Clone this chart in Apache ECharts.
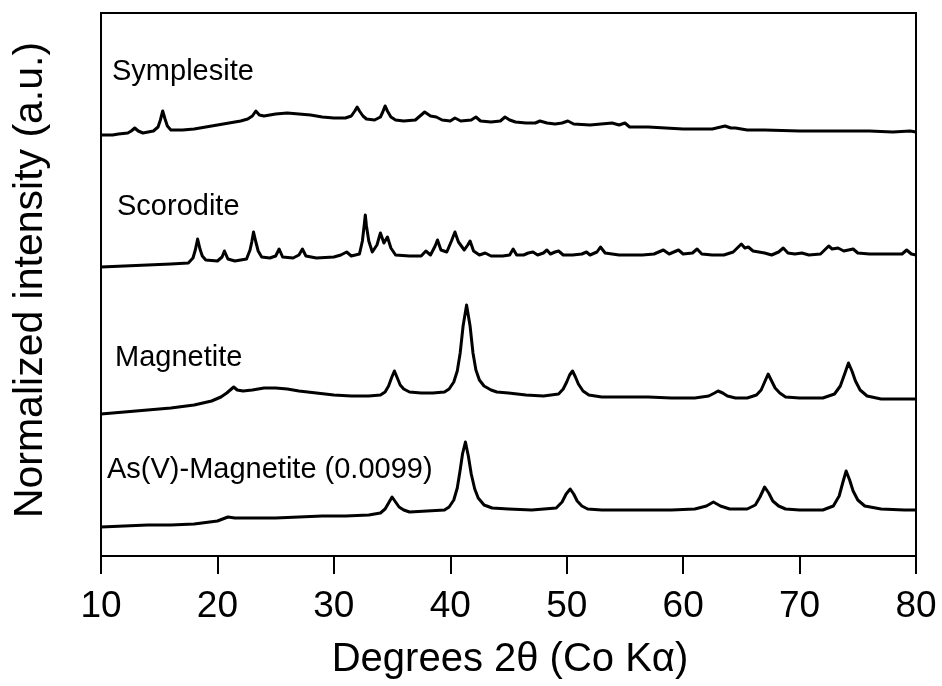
<!DOCTYPE html>
<html>
<head>
<meta charset="utf-8">
<script src="https://cdn.jsdelivr.net/npm/echarts@6/dist/echarts.min.js"></script>
<style>html,body{margin:0;padding:0;background:#fff}#c{width:942px;height:686px}</style>
</head>
<body>
<div id="c"></div>
<script>
const xTicks = [10, 20, 30, 40, 50, 60, 70, 80];
const sampleNames = ['Symplesite', 'Scorodite', 'Magnetite', 'As(V)-Magnetite (0.0099)'];

const symplesite = [
[10,421],[11,421],[11.5,422],[12.3,423],[12.6,425],[12.9,428],[13.2,425],[13.6,423],[14.5,425],[14.9,429],[15.1,436],[15.3,445],[15.5,437],[15.7,430],[16.0,426],
[17.0,426],[18.0,427],[19.0,429],[20.0,431],[21.0,433],[22.0,435],[22.6,437],[23.0,440],[23.3,445],[23.6,441],[24.0,440],[25.0,442],
[26.0,443],[27.0,442],[28.0,441],[29.0,439],[30.0,438],[31.0,438],[31.5,440],[31.8,445],[32.0,449],[32.2,445],[32.5,440],[32.8,437],
[33.5,436],[34.0,439],[34.2,444],[34.4,450],[34.6,445],[34.9,439],[35.3,436],[36.0,435],[37.0,436],[37.5,441],[37.8,444],[38.3,440],
[38.8,439],[39.3,436],[40.0,435],[40.4,438],[40.9,435],[41.8,436],[42.2,439],[42.6,435],[43.5,434],[44.3,435],
[44.7,439],[45.1,436],[45.6,434],[46.5,433],[47.3,433],[47.7,435],[48.3,433],[49.0,432],[49.6,433],[50.1,435],
[50.6,432],[52.0,431],[53.9,433],[54.5,431],[55.0,433],[55.4,429],[57.0,429],[60.0,427],[62.5,427],[63.6,430],
[64.1,428],[64.5,428],[65.5,426],[67.0,426],[70.0,425],[73.0,425],[76.0,425],[78.0,424],[79.5,425],[80,424]
];

const scorodite = [
[10,289],[12,290],[14,291],[16,292],[17.5,293],[17.9,298],[18.1,306],[18.3,317],[18.5,307],[18.7,300],[19.0,296],[20.0,295],
[20.4,299],[20.6,305],[20.9,297],[21.5,295],[22.5,297],[22.8,306],[22.95,314],[23.1,324],[23.3,314],[23.5,305],[23.8,299],[24.5,298],
[25.0,300],[25.3,307],[25.6,299],[26.5,298],[27.0,301],[27.3,307],[27.6,300],[28.5,298],[30.0,299],[30.6,301],
[31.1,304],[31.5,300],[32.2,302],[32.45,315],[32.6,330],[32.7,341],[32.8,330],[33.0,315],[33.3,304],[33.7,311],[34.0,323],[34.3,313],
[34.6,319],[34.9,308],[35.3,301],[36.5,300],[37.5,300],[37.9,305],[38.3,301],[38.7,310],[38.9,316],[39.2,306],
[39.7,304],[40.1,315],[40.4,324],[40.7,314],[41.2,306],[41.5,311],[41.7,315],[42.0,305],[42.5,301],[43.0,303],
[43.5,300],[44.5,300],[45.1,301],[45.4,307],[45.7,301],[46.3,301],[46.7,303],[47.1,304],[47.5,301],[48.0,303],
[48.3,306],[48.6,302],[49.0,304],[49.3,305],[49.7,301],[50.5,301],[51.3,302],[51.7,304],[52.0,301],[52.6,304],
[52.9,309],[53.3,303],[54.5,301],[55.5,301],[56.5,301],[57.5,302],[58.3,306],[58.8,302],[59.6,306],[60.0,302],
[60.8,303],[61.2,307],[61.6,302],[62.5,301],[63.5,301],[64.3,304],[65.0,312],[65.3,308],[65.6,309],[66.0,305],
[67.0,303],[67.6,301],[68.2,304],[68.6,308],[69.0,303],[69.6,302],[70.2,303],[70.8,301],[71.8,302],[72.5,310],
[72.8,307],[73.3,308],[73.8,305],[74.6,307],[75.0,303],[76,302],[77,302],[78,302],[78.8,302],[79.2,306],
[79.6,302],[80,301]
];

const magnetite = [
[10,142],[12,144],[14,146],[16,148],[18,151],[19.5,155],[20.3,159],[20.8,163],[21.1,166],[21.4,169],[21.7,166],
[22.2,165],[23.0,166],[24.0,168],[25.0,168],[26.0,167],[27.0,165],[28.5,163],[30.0,161],[31.5,160],[33.0,160],
[34.0,161],[34.4,164],[34.7,170],[34.95,178],[35.2,185],[35.45,178],[35.7,171],[36.0,167],[36.5,164],[37.5,163],[38.5,163],[39.5,164],
[39.9,167],[40.3,174],[40.6,185],[40.85,203],[41.1,230],[41.4,251],[41.7,230],[41.95,203],[42.2,186],[42.5,176],[42.9,170],[43.5,166],[44.0,164],[45.0,163],
[46.5,161],[48.0,160],[49.3,162],[49.7,167],[50.0,174],[50.25,181],[50.5,185],[50.75,179],[51.0,172],[51.4,165],[51.9,161],[53,159],
[55,159],[57,159],[59,158],[61,158],[62.2,160],[62.7,163],[63.0,165],[63.4,163],[63.8,160],[64.5,158],[65.5,158],[66.3,161],[66.7,166],
[67.0,174],[67.3,182],[67.6,175],[67.9,168],[68.3,163],[68.8,159],[70,158],[72,158],[73.0,162],[73.5,170],[73.9,183],[74.2,193],
[74.5,185],[74.8,175],[75.2,166],[75.8,160],[77,157],[79,157],[80,157]
];

const asMagnetite = [
[10,29],[12,30],[14,31],[16,31],[18,32],[20,35],[20.9,39],[21.5,38],[23,38],[25,38],
[27,39],[29,40],[31,40],[33,41],[34.0,43],[34.4,47],[34.75,54],[35.0,59],[35.3,54],[35.6,49],[36.0,46],[36.5,44],
[38,45],[39.5,46],[39.9,49],[40.3,56],[40.6,68],[40.85,86],[41.05,102],[41.3,114],[41.55,100],[41.8,82],[42.1,67],[42.4,58],[42.9,51],
[43.6,48],[45,47],[47,46],[49.1,48],[49.6,54],[49.95,62],[50.3,67],[50.6,62],[50.9,55],[51.3,50],[51.8,47],
[53,46],[55,46],[57,46],[59,46],[61,47],[62.0,50],[62.6,54],[63.2,50],[64.0,47],[65.5,47],
[66.2,51],[66.6,59],[67.0,69],[67.35,63],[67.7,55],[68.2,50],[68.8,47],[70,46],[72,46],[72.9,50],[73.4,60],[73.75,75],
[74.0,85],[74.3,76],[74.6,65],[75.0,56],[75.6,50],[77,47],[79,46],[80,46]
];

const FONT = '"Liberation Sans", Arial, sans-serif';
const chart = echarts.init(document.getElementById('c'), null, {renderer: 'canvas'});

function lineSeries(name, data) {
  return {
    name: name, type: 'line', data: data, showSymbol: false, symbol: 'none',
    lineStyle: {color: '#000', width: 3, join: 'round'}, animation: false, silent: true
  };
}

const labelPos = [[112, 73], [117, 208], [115, 359], [107, 471]];

chart.setOption({
  backgroundColor: '#fff',
  animation: false,
  grid: {left: 101, right: 26, top: 13, bottom: 130, show: true, borderColor: '#000', borderWidth: 2, backgroundColor: 'transparent'},
  xAxis: {
    type: 'value', min: xTicks[0], max: xTicks[xTicks.length - 1], interval: 10,
    axisLine: {show: true, lineStyle: {color: '#000', width: 2}},
    axisTick: {show: true, inside: false, length: 18, lineStyle: {color: '#000', width: 2}},
    axisLabel: {show: true, color: '#000', fontSize: 37, fontFamily: FONT, margin: 32},
    splitLine: {show: false}
  },
  yAxis: {
    type: 'value', min: 0, max: 543,
    axisLine: {show: true, lineStyle: {color: '#000', width: 2}},
    axisTick: {show: false}, axisLabel: {show: false}, splitLine: {show: false}
  },
  series: [
    lineSeries(sampleNames[0], symplesite),
    lineSeries(sampleNames[1], scorodite),
    lineSeries(sampleNames[2], magnetite),
    lineSeries(sampleNames[3], asMagnetite)
  ],
  graphic: [
    ...sampleNames.map((n, i) => ({
      type: 'text', left: labelPos[i][0], top: labelPos[i][1] - 16, silent: true,
      style: {text: n, font: '29px ' + FONT, fill: '#000'}
    })),
    {type: 'text', x: 510, y: 660, silent: true,
     style: {text: 'Degrees 2\u03B8 (Co K\u03B1)', font: '40px ' + FONT, fill: '#000', align: 'center', verticalAlign: 'middle'}},
    {type: 'text', x: 31, y: 280, rotation: Math.PI / 2, silent: true,
     style: {text: 'Normalized intensity (a.u.)', font: '41px ' + FONT, fill: '#000', align: 'center', verticalAlign: 'middle'}}
  ]
});
</script>
</body>
</html>
